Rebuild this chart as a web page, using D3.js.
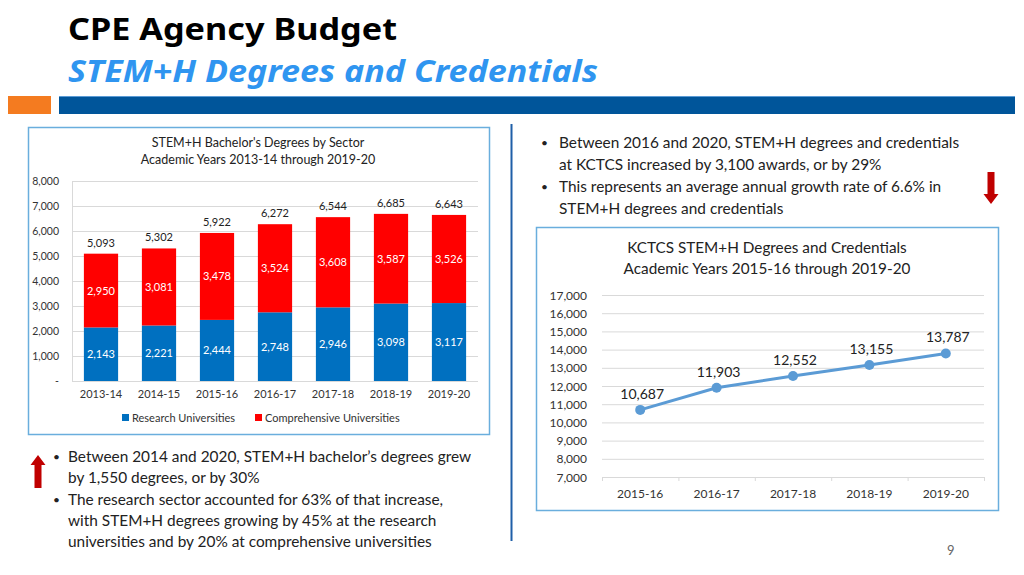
<!DOCTYPE html>
<html><head><meta charset="utf-8">
<script src="https://cdn.jsdelivr.net/npm/d3@7"></script>
<style>body{margin:0;background:#fff;} svg{display:block;}</style>
</head><body>
<svg id="c" width="1024" height="575"></svg>
<script>
// ---- data ----
const barYears = ["2013-14","2014-15","2015-16","2016-17","2017-18","2018-19","2019-20"];
const research = [2143,2221,2444,2748,2946,3098,3117];
const comprehensive = [2950,3081,3478,3524,3608,3587,3526];
const totals = [5093,5302,5922,6272,6544,6685,6643];
const barTicks = [0,1000,2000,3000,4000,5000,6000,7000,8000];
const seriesNames = ["Research Universities","Comprehensive Universities"];

const lineYears = ["2015-16","2016-17","2017-18","2018-19","2019-20"];
const kctcs = [10687,11903,12552,13155,13787];
const lineTicks = [7000,8000,9000,10000,11000,12000,13000,14000,15000,16000,17000];

const bulletsRight = [
  ["Between 2016 and 2020, STEM+H degrees and credentials","at KCTCS increased by 3,100 awards, or by 29%"],
  ["This represents an average annual growth rate of 6.6% in","STEM+H degrees and credentials"]
];
const bulletsLeft = [
  ["Between 2014 and 2020, STEM+H bachelor\u2019s degrees grew","by 1,550 degrees, or by 30%"],
  ["The research sector accounted for 63% of that increase,","with STEM+H degrees growing by 45% at the research","universities and by 20% at comprehensive universities"]
];

const svg = d3.select("#c");
const F = "Lato, 'Open Sans', sans-serif";
const fmt = d3.format(",");

// ---- header ----
svg.append("text").attr("x",68).attr("y",40).attr("font-family","'Noto Sans', 'Open Sans', sans-serif")
  .attr("font-weight",700).attr("font-size",30).attr("fill","#000")
  .attr("textLength",329).attr("lengthAdjust","spacingAndGlyphs").text("CPE Agency Budget");
svg.append("text").attr("x",68).attr("y",82).attr("font-family","'Noto Sans', 'Open Sans', sans-serif")
  .attr("font-weight",700).attr("font-style","italic").attr("font-size",31).attr("fill","#2F95F0")
  .attr("textLength",530).attr("lengthAdjust","spacingAndGlyphs")
  .text("STEM+H Degrees and Credentials");
svg.append("rect").attr("x",8).attr("y",96).attr("width",43).attr("height",18).attr("fill","#F47B20");
svg.append("rect").attr("x",59).attr("y",96).attr("width",956).attr("height",18).attr("fill","#00559A");
svg.append("line").attr("x1",59).attr("x2",1015).attr("y1",96.5).attr("y2",96.5).attr("stroke","#5B9BD5").attr("stroke-width",1);

// divider
svg.append("line").attr("x1",511.5).attr("x2",511.5).attr("y1",124).attr("y2",541).attr("stroke","#1F5FA8").attr("stroke-width",2);

// ---- left bar chart ----
svg.append("rect").attr("x",28.5).attr("y",127.5).attr("width",461).attr("height",307)
  .attr("fill","#fff").attr("stroke","#6AAEDD").attr("stroke-width",1.5);
const lt = svg.append("text").attr("font-family",F).attr("font-size",12.5).attr("fill","#222").attr("text-anchor","middle");
lt.append("tspan").attr("x",258).attr("y",147).text("STEM+H Bachelor's Degrees by Sector");
lt.append("tspan").attr("x",258).attr("y",164).text("Academic Years 2013-14 through 2019-20");

const bx = d3.scaleBand().domain(barYears).range([72,478]).paddingInner(0.41).paddingOuter(0.205);
const by = d3.scaleLinear().domain([0,8000]).range([381,181]);
const gL = svg.append("g");
gL.selectAll("line.g").data(barTicks).join("line")
  .attr("x1",72).attr("x2",478).attr("y1",d=>by(d)+0.5).attr("y2",d=>by(d)+0.5)
  .attr("stroke","#D9D9D9").attr("stroke-width",1);
gL.append("line").attr("x1",72.5).attr("x2",72.5).attr("y1",181).attr("y2",381).attr("stroke","#D9D9D9");
gL.selectAll("text.yt").data(barTicks).join("text")
  .attr("x",59).attr("y",d=>by(d)+4).attr("text-anchor","end")
  .attr("font-family",F).attr("font-size",10.5).attr("fill","#333")
  .text(d=>d===0?"-":fmt(d));
gL.selectAll("rect.r").data(barYears).join("rect")
  .attr("x",d=>bx(d)).attr("width",bx.bandwidth())
  .attr("y",(d,i)=>by(research[i])).attr("height",(d,i)=>by(0)-by(research[i])).attr("fill","#0070C0");
gL.selectAll("rect.c").data(barYears).join("rect")
  .attr("x",d=>bx(d)).attr("width",bx.bandwidth())
  .attr("y",(d,i)=>by(research[i]+comprehensive[i])).attr("height",(d,i)=>by(research[i])-by(research[i]+comprehensive[i])).attr("fill","#FF0000");
gL.selectAll("text.rl").data(barYears).join("text")
  .attr("x",d=>bx(d)+bx.bandwidth()/2).attr("y",(d,i)=>by(research[i]/2)+4)
  .attr("text-anchor","middle").attr("font-family",F).attr("font-size",11).attr("fill","#fff")
  .text((d,i)=>fmt(research[i]));
gL.selectAll("text.cl").data(barYears).join("text")
  .attr("x",d=>bx(d)+bx.bandwidth()/2).attr("y",(d,i)=>by(research[i]+comprehensive[i]/2)+4)
  .attr("text-anchor","middle").attr("font-family",F).attr("font-size",11).attr("fill","#fff")
  .text((d,i)=>fmt(comprehensive[i]));
gL.selectAll("text.tl").data(barYears).join("text")
  .attr("x",d=>bx(d)+bx.bandwidth()/2).attr("y",(d,i)=>by(totals[i])-7)
  .attr("text-anchor","middle").attr("font-family",F).attr("font-size",11).attr("fill","#222")
  .text((d,i)=>fmt(totals[i]));
gL.selectAll("text.xl").data(barYears).join("text")
  .attr("x",d=>bx(d)+bx.bandwidth()/2).attr("y",398)
  .attr("text-anchor","middle").attr("font-family",F).attr("font-size",11).attr("fill","#333")
  .text(d=>d);
const legX = [122,255], legC = ["#0070C0","#FF0000"];
seriesNames.forEach((n,i)=>{
  gL.append("rect").attr("x",legX[i]).attr("y",414).attr("width",7).attr("height",7).attr("fill",legC[i]);
  gL.append("text").attr("x",legX[i]+10).attr("y",421.5).attr("font-family",F).attr("font-size",11).attr("fill","#333").text(n);
});

// ---- right line chart ----
svg.append("rect").attr("x",536.5).attr("y",227.5).attr("width",462).attr("height",283)
  .attr("fill","#fff").attr("stroke","#6AAEDD").attr("stroke-width",1.5);
const rt = svg.append("text").attr("font-family",F).attr("font-size",15.3).attr("fill","#222").attr("text-anchor","middle");
rt.append("tspan").attr("x",767).attr("y",253).text("KCTCS STEM+H Degrees and Credentials");
rt.append("tspan").attr("x",767).attr("y",274).text("Academic Years 2015-16 through 2019-20");

const lx = d3.scaleBand().domain(lineYears).range([602,984]);
const ly = d3.scaleLinear().domain([7000,17000]).range([477,295]);
const gR = svg.append("g");
gR.selectAll("line.g").data(lineTicks).join("line")
  .attr("x1",602).attr("x2",984).attr("y1",d=>ly(d)+0.5).attr("y2",d=>ly(d)+0.5)
  .attr("stroke","#D9D9D9").attr("stroke-width",1);
gR.selectAll("line.t").data(d3.range(lineYears.length+1)).join("line")
  .attr("x1",i=>602+i*lx.step()+0.5).attr("x2",i=>602+i*lx.step()+0.5)
  .attr("y1",477).attr("y2",481).attr("stroke","#D9D9D9");
gR.selectAll("text.yt").data(lineTicks).join("text")
  .attr("x",587).attr("y",d=>ly(d)+4.5).attr("text-anchor","end")
  .attr("font-family",F).attr("font-size",12).attr("fill","#333").text(d=>fmt(d));
gR.selectAll("text.xl").data(lineYears).join("text")
  .attr("x",d=>lx(d)+lx.bandwidth()/2).attr("y",498).attr("text-anchor","middle")
  .attr("font-family",F).attr("font-size",12).attr("fill","#333").text(d=>d);
const line = d3.line().x((d,i)=>lx(lineYears[i])+lx.bandwidth()/2).y(d=>ly(d));
gR.append("path").datum(kctcs).attr("d",line).attr("fill","none").attr("stroke","#5B9BD5").attr("stroke-width",3);
gR.selectAll("circle").data(kctcs).join("circle")
  .attr("cx",(d,i)=>lx(lineYears[i])+lx.bandwidth()/2).attr("cy",d=>ly(d)).attr("r",5).attr("fill","#5B9BD5");
gR.selectAll("text.dl").data(kctcs).join("text")
  .attr("x",(d,i)=>lx(lineYears[i])+lx.bandwidth()/2+2).attr("y",d=>ly(d)-11).attr("text-anchor","middle")
  .attr("font-family",F).attr("font-size",14).attr("fill","#222").text(d=>fmt(d));

// ---- bullets ----
function bullets(list, bx0, tx, y0, lh){
  let y = y0;
  list.forEach(lines=>{
    svg.append("text").attr("x",bx0).attr("y",y-1).attr("font-family",F).attr("font-size",12).attr("fill","#222").text("\u2022");
    lines.forEach(l=>{
      svg.append("text").attr("x",tx).attr("y",y).attr("font-family",F).attr("font-size",15.4).attr("fill","#222").text(l);
      y += lh;
    });
    y += 1;
  });
}
bullets(bulletsRight, 541, 559, 148, 21.5);
bullets(bulletsLeft, 53, 68, 462, 21);

// arrows
function arrow(x, yTop, yBot, up){
  const w=6, hw=7.5, hh=10;
  let p;
  if(up){
    p = [[x,yTop],[x+hw,yTop+hh],[x+w/2+0.5,yTop+hh],[x+w/2+0.5,yBot],[x-w/2-0.5,yBot],[x-w/2-0.5,yTop+hh],[x-hw,yTop+hh]];
  } else {
    p = [[x,yBot],[x+hw,yBot-hh],[x+w/2+0.5,yBot-hh],[x+w/2+0.5,yTop],[x-w/2-0.5,yTop],[x-w/2-0.5,yBot-hh],[x-hw,yBot-hh]];
  }
  svg.append("polygon").attr("points",p.map(q=>q.join(",")).join(" ")).attr("fill","#C00000");
}
arrow(991,172,204,false);
arrow(38,455,488,true);

// page number
svg.append("text").attr("x",947).attr("y",555).attr("font-family",F).attr("font-size",13).attr("fill","#666").text("9");
</script>
</body></html>
